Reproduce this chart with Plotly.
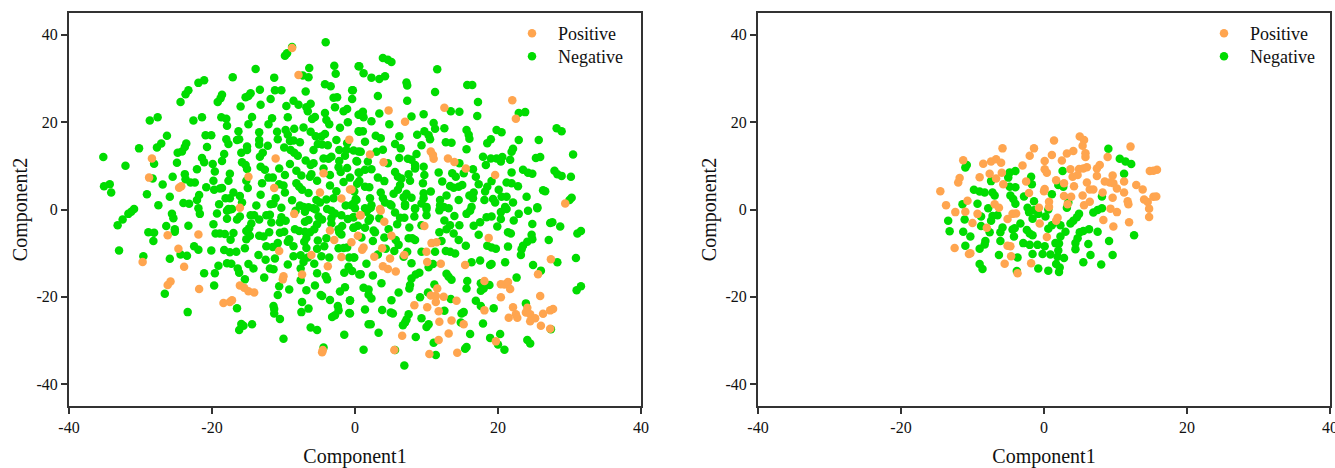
import plotly.graph_objects as go

left_positive = [(-8.8,37.0),(-7.9,30.8),(-0.8,16),(-11.1,11.7),(-28.4,11.7),(-4.4,8.3),(-14.9,7.5),(-28.8,7.3),(-24.6,5),(-24.3,5.3),
(-11.3,4.9),(-0.7,4.6),(-4.9,3.9),(-1.9,2.5),(-16.1,0.4),(-8.5,-1),(0.7,-1.3),(-26.2,-5.9),(-21.9,-5.7),(-3.5,-4.8),(-2.9,-7),(0.4,-6),(-0.5,-7.5),
(-24.7,-9),(-10.6,-9.5),(-29.7,-12),(-6.1,-10.4),(-1.9,-10.9),(-23.9,-13.1),(-3.8,-13),(-7.4,-14.9),(-10,-15.3),(-10.1,-16),(-25.8,-16.5),(-26.2,-17.3),
(-16.1,-17.4),(-15.5,-17.9),(-14.9,-18.7),(-14.1,-19),(-21.8,-18.2),(-18.4,-21.4),(-17.5,-21.2),(-17.2,-20.8),(-4.6,-32.7),(-4.5,-32.2),
(22,25),(12.5,23.3),(4.7,22.7),(22.5,20.8),(7,20.1),(2.1,12.6),(10.6,13.3),(11,11.6),(10.9,12.5),(13,11.7),(13.9,10.9),(4,10.8),(15.5,9.4),(19.6,7.9),(-0.5,4.6),(29.4,1.4),(3.5,0.1),
(3.6,-0.3),(0.8,-1.3),(4.1,-2.8),(9.7,-3.8),(5.1,-6),(18.7,-6.5),(10.7,-7.7),(11.4,-7.5),(1.2,-8.7),(1,-9.2),(3.8,-8.9),(10,-9.7),(6.9,-10.4),(2.7,-10.8),(4.9,-11.2),(10.1,-12),(12,-12.4),(15.4,-12.7),(27.4,-11.4),
(3.9,-13),(4.6,-13.6),(5.7,-14.2),(25.6,-14.8),(18.1,-16.4),(20.4,-17.1),(20.9,-17.2),(21.4,-16.6),(21.7,-18.2),(11.5,-18.1),(10.6,-19.7),(11.3,-19.8),(12.4,-20),(20.4,-20.1),(25.9,-19.8),(11.3,-21.2),(14.2,-20.9),(8.3,-21.9),(10.1,-22.4),
(22.1,-22.4),(24.1,-22.5),(11.7,-23.3),(18.1,-23.1),(27.7,-22.8),(27.3,-23.1),(26.3,-23.9),(23.9,-23.6),(24.5,-24),(25.2,-24.9),(24.5,-25.6),(22.5,-24),(22.7,-24.8),(21.5,-24.8),(11.8,-25.7),(13.5,-25.4),(15.2,-26.3),(26,-26.6),(27.3,-27.3),
(13.1,-28.4),(6.6,-28.9),(11.7,-29.9),(19.7,-30.2),(5.5,-32.2),(10.4,-33.1),(14.3,-32.8)]

left_negative = [(-4.1,38.3),(-8.8,37.2),(-9.5,35.8),(-9.8,35.2),(-6.4,32.4),(-2.9,32.9),(-2.7,31.1),(0.5,32.8),(-13.9,32.2),(-17.1,30.3),(-11.3,30.2),(-7.3,30.7),(-6.5,30.3),(-21.1,29.6),(-21.9,29),(-4.2,28.7),(-3.4,28.2),
(-13.3,27.4),(-11.2,27.3),(-10.3,27.3),(-6.9,27),(-0.4,27.3),(-23.3,27.3),(-23.7,26.4),(-18.6,26.3),(-18.8,25.5),(-19.2,24.6),(-14.6,26.6),(-14.9,26),(-15.3,25.7),(-11.8,25.3),(-8.6,24.9),(-7.9,24),(-3,25.6),(-2.5,25.7),(-0.4,25.3),(-24.4,24.6),
(-16,23.6),(-13.2,24),(-9.6,23.7),(-6.2,24.2),(-6.8,23.4),(-6.6,22.5),(-2.8,23.4),(-1.1,23),(-1.6,22.5),(-4.2,22.1),(0.5,21.7),(-28.7,20.4),(-27.6,21.1),(-22.6,20.4),(-21.4,21.1),(-18.7,21.1),(-18,20.8),(-14.4,21.2),(-11.6,20.9),(-12.1,19.5),(-9.4,21.1),
(-5.6,21.2),(-6,20.7),(-4,20.5),(-3.6,19.5),(-1,20),(-17.9,19.2),(-14.9,19.5),(-2.1,18.7),(-8.5,18.5),(-7.2,18.8),(-16.3,17.9),(-13.4,17.7),(-10.9,17.8),(-9.7,18.2),(-9.4,17.1),(-6.2,17.8),(0.5,17.9),(-26.3,16.9),(-20.9,17),(-20.1,17),
(-5.5,16.8),(-4.2,17.3),(-4.7,16.7),(-18,16.1),(-17.7,15),(-16.5,15.9),(-16.2,16.1),(-13.4,15.9),(-13.4,14.9),(-10.8,16.1),(-9.1,15.7),(-8.6,15.8),(-2.6,15.9),(-7.7,15.4),(-1.1,15.2),(-27.1,15.1),(-27.7,14.2),(-23.6,15.1),(-23.8,14.3),(-24.2,13.3),(-24.8,13),
(-5.2,15),(-4.6,14.9),(-3.8,14.7),(-30.2,14),(-20.7,14.3),(-12.2,14.6),(-15.1,14.4),(-15.1,13.6),(-9.9,14.2),(-9,13.6),(-8.5,13),(-8,12.3),(-5.8,13.6),(-2.2,13.6),(-1.2,13.6),(-0.2,13.5),(0.5,13.3),(-15.9,13),(-12.9,13),(-13.3,12.1),(-18.3,12.7),(-1.4,12.3),(-35.2,12),
(-3.3,12.1),(-3.7,11.6),(-4.4,11.7),(-21.4,11.8),(-21.1,10.8),(-18.6,11.1),(-6.9,11.2),(-5.8,10.6),(-6.2,10.2),(-2.2,11.1),(0.2,11.1),(-15.8,10.8),(-15.3,10.2),(-15.1,9.3),(-24.9,10.7),(-28.1,10.5),(-19.9,10.4),(-9.1,10.4),(-32.1,10),(-13.2,9.8),(-12.6,9.1),(-10.6,9.4),
(-2.3,9.7),(-2,8.6),(-4.4,9.4),(-1.1,9.5),(-22.1,9.2),(-19.6,8.7),(-8.2,8.9),(-7.5,7.8),(0.5,8.5),(-17.5,8.2),(-23.8,8.1),(-23.7,6.9),(-25.5,7.5),(-28.3,7.1),(-9.8,7.9),(-3.5,7.9),(-6.3,7.5),(-6.1,8.1),(-0.7,7.3),(-12.1,7.3),(-11.5,7.3),(-19.8,6.6),(-17.7,6.6),(-15.2,6.6),(-5.3,6.6),
(-1.6,6.3),(-23,6.2),(-22.4,6.2),(-13,6),(-26.9,5.7),(-34.3,5.8),(-35.1,5.3),(-10.6,5.8),(-10,5.5),(-8.2,6),(-7.8,5.2),(-3.5,5.5),(-20.8,5.1),(-18.6,4.9),(-18.9,4.8),(-15,4.9),(-19.7,4.5),(-7.4,4.5),(-6.5,3.8),(-34.1,3.9),(-17,3.9),(-2.6,4.2),(-9.8,3.9),(-0.1,4.1),(-29.1,3.5),(-13.2,3.4),(-21.8,3.3),
(-3,2.6),(-4,2.3),(-5.4,2.2),(-4.9,1.6),(-16.1,3.1),(-17.5,2.6),(-18.1,2.6),(-25.9,2.9),(-11.1,2.6),(-8.8,2.1),(-22.1,2.2),(-24,1.5),(-23.2,1.3),(-15.8,1.6),(-27.5,1),(-19,1.2),(-13.8,0.9),(-11.8,1.2),(-11.4,1.3),(-7.7,0.9),(-7.2,0.6),(-6.5,0.5),(-1.3,0.9),(-0.5,1),(0.2,2.2),
(-30.9,0.1),(-21.9,0.3),(-17.7,0.1),(-17.2,0.1),(-10.3,0.4),(-3.9,0.1),(-5.8,0.3),(-31.3,-0.5),(-31.7,-1),(-32.5,-2.3),(-33.2,-3.6),(-25.6,-1),(-25.4,-2),(-21.7,-1),(-19.3,-0.9),(-17.9,-0.3),(-17.5,0),(-17.9,-2.1),(-16.1,-1.6),(-16.5,-2.3),(-14.6,-1.3),(-14.1,-1.3),(-13.4,-2.3),(-12.4,-1.3),(-11.9,-1.2),
(-10.3,-1.8),(-10.5,-2.9),(-9.7,-2.6),(-11.7,-3),(-8.3,-0.3),(-7,-0.5),(-6.5,-2.4),(-7,-2.8),(-5.5,0),(-5.1,-1.6),(-4.6,-2.3),(-3.3,-0.3),(-2.8,-0.9),(-3.3,-2),(-3.3,-3.2),(-1.9,-1.3),(-1,-2.2),(-0.2,-1.8),(-19.8,-3.4),(-26.4,-3.8),(-25.2,-4.5),(-25.2,-5.1),(-23.3,-3.7),(-14.5,-3.2),(-14.8,-4.3),(-15.2,-4.9),
(-1.8,-3.8),(-2.3,-4.5),(-0.2,-4.2),(-5.3,-3.4),(-5.7,-4.5),(-8.4,-4.5),(-7.8,-4.9),(-10.5,-5.3),(-9.9,-5.1),(-12,-5.2),(-7,-5.1),(-6.3,-5.2),(-1.9,-5.7),(-2.2,-5.2),(-28.9,-5.2),(-28.1,-5.3),(-28.2,-7.2),(-19.5,-5.5),(-18.9,-5.5),(-18.2,-5.6),(-17,-5.4),(-17.4,-6.9),(-14.7,-6),(-15.2,-6.8),(-13.4,-6),(-12.8,-6.2),
(-6.8,-6.5),(-7.1,-7.4),(-4,-6.6),(-5.2,-7.1),(-9.2,-6.8),(-9.4,-7.4),(-10.8,-7.7),(-12.4,-8.4),(-11.5,-8.6),(-8.6,-8.4),(-6.8,-8.8),(-4.3,-8.4),(-5.3,-9),(-2.3,-8.9),(-1.6,-8.8),(-1.1,-8.7),(-22.5,-8.4),(-21.9,-9.2),(-20.1,-9.4),(-18.3,-9.3),(-17.5,-9.8),(-16.6,-9.7),(-15.4,-8.9),(-33,-9.4),(-24.4,-10.3),(-23.5,-10.6),
(-13.5,-10.4),(-8.6,-10.7),(-7.6,-10.5),(-29.6,-10.7),(-25.9,-11.3),(-12.5,-11.5),(-11.2,-11.2),(-6.6,-11),(-7.2,-12),(-4.7,-10.7),(-3.6,-11),(-0.8,-11),(-0.1,-11),(-17.9,-12.3),(-17.3,-12.4),(-19.1,-12.9),(-14.9,-12.5),(-14.2,-13.5),(-9.4,-12.6),(-5.7,-12.4),(-11.9,-13.5),(-11.4,-13.7),(-7.6,-13.5),(-16.4,-13.5),(-16.2,-14.5),
(-0.9,-13.1),(-0.4,-14.1),(-1.5,-14.5),(-21.1,-14.6),(-19.6,-14.6),(-5.3,-14.6),(0.6,-14.9),(-4.1,-15.3),(-3.9,-16),(-12.7,-15.6),(-15.4,-16),(-7.6,-16.2),(-19.7,-17.4),(-10.6,-17.6),(-5.6,-17.4),(-1.4,-17.8),(-2.1,-18.8),(-9.2,-18.3),(-6.8,-18.5),(-26.6,-19.3),(-10.8,-19.6),(-4.8,-19.6),(-4.6,-19.8),(-3.5,-20.7),(-0.7,-20.8),(-7.4,-21.2),
(-11.4,-22.1),(-11.3,-22.8),(-16.5,-22.6),(-6.5,-22.7),(-7.5,-23.5),(-2.4,-22.1),(-2.3,-23.1),(-23.4,-23.5),(-11.3,-23.8),(-0.8,-23.7),(-2.8,-24.2),(-3.2,-24.6),(-10.5,-25.1),(-15.9,-26.2),(-15.6,-26.6),(-16.2,-27.6),(-14.4,-26.3),(-6.2,-27),(-5.3,-27.6),(-1.5,-28.7),(-10,-29.6),(-4.4,-31.6),
(3.9,34.7),(4.6,34.3),(5.1,33.8),(0.6,32.8),(1.2,31.2),(2.3,30.2),(3.4,29.9),(4.2,30.5),(11.5,32.1),(7.2,29.1),(7.3,28.4),(15.7,28.5),(16.4,28.5),(-0.3,27.3),(11.2,26.9),(3.2,26),(7.3,24.9),(17.2,24.6),(13.4,22.5),(14.6,22.4),(1.1,22.4),(0.6,21.7),(1.2,21.1),(3.4,22),(9.6,21.8),(7.9,21.3),(17.1,21.4),(22.9,22.1),(23.8,22.3),
(2.3,20.2),(4.8,19.5),(11,19.8),(11.2,18.5),(12.5,18.6),(15.6,18.2),(15.9,17.1),(16,16.2),(28.2,18.6),(28.9,17.9),(19.8,18.2),(20.5,17.7),(0.6,17.8),(1.1,17.9),(9.7,17.9),(10.3,17),(10.5,16.1),(8.7,17.1),(6.2,16.8),(2.9,16.9),(3.6,16.3),(19,16.1),(18.5,15.2),(22.9,15.9),(25.7,15.9),(1.4,15.5),(5.6,15),(6.4,14),(12.7,15.4),(13.5,15.3),(9.3,14.7),(15.6,13.8),(22.1,13.9),(21.9,13.2),
(0.8,13.2),(3.9,13.7),(3,13.2),(8.6,12.7),(30.5,12.6),(17.9,12.1),(19,11.7),(19.8,11.7),(20.6,12),(20.4,11),(25.3,11.8),(25.9,12),(21.7,11.4),(6.2,11.8),(7.4,11.6),(7.9,11.4),(1.8,11),(0.3,11),(4.6,10.6),(8.4,10.2),(8.4,9.4),(9.6,9.8),(18.3,10.2),(27.9,8.9),(28.3,8.1),(28.9,7.7),(23.5,9.1),(24.2,8.4),(24.8,8.2),(2.3,9.2),(1.4,9.1),(0.6,8.4),(5.6,8.6),(6,7.5),(16.5,9.2),(15.2,8.3),(14.6,10.6),(11.7,8.5),(21.9,8.5),(9.7,7.9),(13.6,8.3),(14.1,7.5),(16.9,7.5),(30.2,7.5),
(7.5,8.1),(6.5,7.1),(7.7,6.6),(3.2,7.3),(4.1,6.5),(0.6,6.5),(0.3,5.9),(12.2,6.4),(19.1,6.5),(21.2,6.2),(21.9,6),(22.8,5.3),(17.3,5.8),(6.3,5.6),(6,4.5),(9.5,6),(15,5.6),(14.5,5.2),(13.3,5.4),(13.8,5),(1.4,5.2),(2,5.1),(18.5,5.2),(18.2,4.1),(20.1,4.5),(26.3,4.4),(26.6,4.2),(3.6,3.9),(3.9,2.6),(10.6,4.1),(5.4,3.6),(6.8,2.8),(7.2,3.6),(7.9,2.7),(9.6,3.7),(9.6,2.6),(9.3,1.4),(12.8,3.2),(11.9,2.2),(16,3.2),(16.6,3.9),(16.5,2.6),(18.1,2.2),(24,2.9),(19.3,2.4),(19.6,1.6),(20.5,2.9),(21.2,2.9),(14.5,2.2),(30.3,2.7),(30,2.2),(22.1,1.6),(21,0.6),(25.5,0.5),(2.1,2.6),(2.3,1),(0.1,2.4),(-0.2,1.4),(4.9,1.2),(4.2,1.6),(7,1.2),(8.4,0.3),(11.9,1),(12.4,0.6),(10,0.6),(16.3,0.6),(1.9,0.1),(1.4,0.3),
(0,0.3),(1.6,-0.5),(2.2,0.4),(5.1,0.9),(7,0.8),(8.4,0.1),(8.3,-1.6),(10,0.1),(10,-1.3),(11.8,-0.2),(13.1,0.3),(16.1,-0.3),(15.6,-1),(20.4,-0.6),(21.2,0.1),(20.4,-2.2),(22.9,-1),(24.2,-0.3),(25.5,0.3),(-0.2,-1.8),(2.1,-2),(1.9,-2.6),(3.4,-2),(5.6,-0.7),(6.3,-1.9),(6.9,-1.9),(12.5,-2.5),(13.9,-1.5),(18.4,-1.8),(19.1,-1.6),(22.2,-2.5),(5.9,-3.4),(24.8,-3.3),(27.3,-3.1),(27.6,-2.9),(28.7,-3.9),(0.4,-3.7),(-0.2,-4.2),(1.4,-4.2),(7.6,-4.1),(9.3,-3.6),(13.3,-3.6),(12.8,-4.5),(14.6,-3.6),(16.6,-3.7),(17.5,-2.9),(19.9,-3.9),
(2.6,-4.8),(2.8,-5.2),(4.7,-4.5),(11.8,-5.2),(13.8,-5.5),(17.3,-5.8),(21.4,-5.2),(21.8,-5.5),(24.7,-5.8),(24.8,-6.8),(24.1,-7.4),(31.6,-4.9),(31.1,-5.5),(0.9,-6.4),(4.1,-6.4),(7.5,-6.6),(8,-6.6),(8.4,-7),(12.1,-7.2),(14.5,-7),(27.1,-7),(2.5,-7.2),(5.7,-7),(6.1,-8.1),(15.5,-8.3),(18.5,-8.3),(19.1,-8.7),(19.7,-9),(21.4,-8.5),(23.5,-8.3),(23.3,-9.1),(23.2,-10.4),(4.3,-9),(5.5,-9.5),(7.3,-9.7),(9.3,-9.7),(11.2,-9.7),(12.7,-9.5),(13.3,-9.7),(14,-10.1),(3.2,-10.3),(-0.2,-11),(6.8,-10.8),(30.9,-11.1),(17.5,-11.7),(16.3,-12.1),(1.6,-12.4),(7.9,-12.3),(19.1,-12.5),(18.9,-12.7),(21,-12.1),(28.3,-12.1),(10.9,-12.5),(10.3,-13.2),(24.9,-12.7),(26,-14),
(0.8,-14.8),(2.5,-15.1),(9,-14.5),(8.5,-14.9),(12.8,-14.7),(13.1,-15.4),(13.5,-16.1),(7.9,-15.8),(7.7,-17.3),(7.6,-18.1),(22.6,-15.6),(15.7,-16.4),(15.6,-18.1),(3.7,-16.9),(17.6,-16.9),(18.8,-17.3),(18,-18.1),(17.6,-18.6),(11.1,-17.2),(31.6,-17.6),(31,-18.5),(1.2,-17.9),(1.9,-18.3),(1.9,-19.5),(2.3,-20.4),(6.1,-19),(10.2,-19),(9.1,-20.1),(13.4,-20.5),(5.1,-20.8),(16.9,-20.9),(-0.7,-20.9),(17.6,-22.1),(23.9,-21.5),(19.4,-22.6),(1.4,-22.9),(3.8,-23),(5,-23.6),(5.3,-23.8),(12.5,-23.2),(15.2,-23.5),(14.9,-23.8),(-0.7,-23.8),(7.5,-24),(9.3,-24.9),(7.2,-25.2),(7,-25.9),(6.7,-26.5),(14.8,-25.9),(17.9,-26.1),(10.3,-26.3),(10,-26.9),(1.9,-26.3),(2.2,-26.3),(3.3,-28.2),(8.5,-29.2),(16.1,-28.5),(20.3,-28.5),(18.9,-29.4),(11,-30.5),(24.1,-29.9),(24.5,-30.7),(20,-30.9),(20.9,-32.1),(15.6,-31.5),(15.4,-31.9),(1.2,-32.1),(5.6,-32.2),(11.3,-33.3),(6.9,-35.7),(27.4,-27.4)]

right_positive = [(1.4,15.8),(5,16.7),(5.6,15.9),(5.4,14.6),(12.1,14.4),(-5.8,14),(-1.4,14),(-2,12.3),(4.1,13.4),(3.2,12.8),(5.8,12.9),(5.8,12),(1.1,12.5),(8.9,12),(0.1,11.1),(2.5,11.2),(-11.3,11.3),(-7.4,11),(-6.7,11.5),(-6,10.7),(-8.5,10.5),(-3,10.1),(7.8,10.2),(7.4,9.4),(6,9.7),(4.9,9.3),(5.5,9.4),(3.7,9.2),(0.1,9.2),(0.4,8.4),
(14.8,8.8),(15.8,9.1),(15.3,8.9),(-7.6,8.2),(-5.9,8.4),(-9,7.4),(-6.7,7.1),(-11.8,7.2),(-12,6.2),(4,7.5),(4.7,7.9),(7.4,7.7),(9.6,7.8),(9.2,6.2),(8.5,6.4),(9.7,6),(11.2,6.4),(1.7,6.7),(2.8,6),(-2.5,6.4),(-5.7,5.8),(6,6.2),(4.2,5.3),(12.9,5.6),(10.2,4.8),(13.8,4.6),(6.4,4.6),(6.9,4.6),(0.1,4.7),(0,4.2),(11.2,3.9),(8.2,3.9),(-14.5,4.2),(-2.1,3.8),
(2.8,3.1),(3.8,2.9),(5.4,3.2),(9.6,2.7),(15.3,2.9),(15.7,3),(14,2.3),(14.5,1.7),(-10.7,2),(11.7,1.9),(11.8,1.2),(6.4,1.8),(5.6,1),(0.7,1.8),(0.7,0.6),(3.3,1.2),(-6.9,1.2),(-6.3,0.4),(-13.7,1),(-0.7,0.4),(9.3,0.2),(10.2,-0.6),(14.7,0.2),(14.7,-1.7),(-12.4,-0.6),(-11,-0.5),(-9.3,-1),(-4.4,-1),(-3.9,-0.9),(-5.1,-2.2),(1.9,-1.9),(1.7,-2.6),(8.3,-2.4),(-10,-3.1),(-0.6,-3.2),(11.9,-2.9),(9.7,-3.9),(-8,-4.2),(0.4,-6.3),(-5.1,-8.3),(-4.7,-8.4),(-12.5,-8.8),(-10.3,-10),(-10.5,-10.2),(-4.6,-10.7),(-1.8,-12.3),(-5.5,-12.4),(-3.7,-14.6)]

right_negative = [(9,13.9),(10.6,11.6),(11.4,11),(12.2,10.4),(-10.8,10.2),(-11,9.6),(-4.8,8.5),(-4,8.8),(-5,7.3),(2.6,8.8),(11.2,8.2),(-1.8,7.5),(-1.7,5.8),(-7.4,6.5),(-4.8,5.2),(-4,5.1),(2,5.6),(2.7,5.2),(-9.8,4.5),(-9,4.1),(-8.3,3.9),(-7.2,3.9),(-6.9,3.2),(1.1,3.5),(-2.8,3),(8.1,3),(-4.7,3.2),(-4.3,2.4),(-4,1.3),(-1.4,1.9),(-11.4,1.2),(-9.3,1.3),(-7.8,0.3),(3.4,1.6),(3.2,0.4),(-2.3,0.4),(-2.1,-0.6),(0.6,0),(8.1,0.3),(7.5,-0.1),(6.9,-0.7),(-1.4,-0.2),(-0.8,-1),(0.2,-1.6),(-1.6,-2.1),(-6.5,-1.3),(-7.2,-1.5),(-7.4,-2.6),(-8.8,-1.6),(-13.4,-2.6),(-11.1,-2.3),(4.9,-1),(4.6,-1.8),(4.1,-2.6),(3.7,-3.2),(-3.3,-3.2),(-8.8,-3.8),(1.1,-3.6),(0.6,-4.4),(2.3,-3.6),(-5.8,-4.1),(-6.1,-5.2),(-4.1,-4.3),(-4.4,-4.6),(-13.2,-5),(-11.3,-5.1),(-7.6,-5.2),(-2.4,-4.7),(-2,-5.5),(-1.6,-5.9),(3,-5.1),(2.3,-6.2),(6.3,-4.5),(5.5,-4.9),(5,-5.2),(7.5,-5.1),(12.6,-5.9),(-10.3,-6.2),(-4.2,-6.2),(-6.1,-7.2),(4.7,-6.6),(4.4,-7.7),(4.4,-9.1),(9.1,-7.2),(-8.2,-7.2),(-8.3,-8),(-9,-9),(-2.9,-7.7),(-2,-8.1),(-0.9,-8.1),(0.1,-8.4),(1.6,-7.7),(2.1,-7.8),(6.2,-7.9),(-11,-8.3),(2,-9.4),(-1.6,-10.2),(-0.2,-10.2),(0.9,-10.3),(-6.3,-10.4),(6.5,-10.4),(9.6,-10.4),(1.9,-10.8),(2.8,-11.1),(-3.7,-11),(5.5,-12.1),(8,-12.6),(-9,-12.5),(-8.6,-13.6),(1.7,-12.5),(2.2,-13.3),(-0.8,-13.5),(0.6,-14),(2.1,-14.3),(-3.8,-14.1)]

tick_values = [-40, -20, 0, 20, 40]
tick_labels = ["-40", "-20", "0", "20", "40"]
W, H = 1335, 468
ORANGE, GREEN, INK = "#FFA54F", "#00DC00", "#333333"
SERIF = "Liberation Serif"

fig = go.Figure()

def add(points, name, color, xa, ya, legend):
    fig.add_trace(go.Scatter(x=[p[0] for p in points], y=[p[1] for p in points], mode="markers", name=name,
                             marker=dict(color=color, size=8.5, line=dict(width=0)), xaxis=xa, yaxis=ya,
                             legend=legend, showlegend=True, cliponaxis=False))

add(left_negative, "Negative", GREEN, "x", "y", "legend2")
add(left_positive, "Positive", ORANGE, "x", "y", "legend")
add(right_negative, "Negative", GREEN, "x2", "y2", "legend4")
add(right_positive, "Positive", ORANGE, "x2", "y2", "legend3")

common = dict(tickvals=tick_values, ticktext=tick_labels, ticks="outside", ticklen=6, tickwidth=2, tickcolor=INK, showgrid=False, zeroline=False,
              showline=True, linecolor=INK, linewidth=2, mirror=True, tickfont=dict(family=SERIF, size=16, color="#111"), automargin=False)
xstyle = dict(range=[-40, 40], title=dict(text="Component1", font=dict(family=SERIF, size=20, color="#111"), standoff=18), **common)
ystyle = dict(range=[-45, 45], title=dict(text="Component2", font=dict(family=SERIF, size=20, color="#111"), standoff=3), **common)

legend_style = dict(bgcolor="rgba(0,0,0,0)", font=dict(family=SERIF, size=18, color="#111"), itemsizing="trace", itemwidth=42,
                    xanchor="left", yanchor="top", tracegroupgap=0)

fig.update_layout(
    width=W, height=H, autosize=False, showlegend=True, margin=dict(l=0, r=0, t=0, b=0, autoexpand=False), paper_bgcolor="white", plot_bgcolor="white",
    xaxis=dict(domain=[69/W, 641/W], anchor="y", **xstyle),
    yaxis=dict(domain=[(H-406)/H, (H-13)/H], anchor="x", **ystyle),
    xaxis2=dict(domain=[758/W, 1330/W], anchor="y2", **xstyle),
    yaxis2=dict(domain=[(H-406)/H, (H-13)/H], anchor="x2", **ystyle),
    legend=dict(x=506/W, y=1-15/H, **legend_style),
    legend2=dict(x=506/W, y=1-38/H, **legend_style),
    legend3=dict(x=1198/W, y=1-15/H, **legend_style),
    legend4=dict(x=1198/W, y=1-38/H, **legend_style),
    annotations=[dict(text="40", x=40, xref="x2", xanchor="center", y=1-427/H, yref="paper", yanchor="middle", showarrow=False,
                      font=dict(family=SERIF, size=16, color="#111"))],
)
fig.write_html("out.html", post_script="document.body.style.margin='0';", config=dict(displayModeBar=False))
